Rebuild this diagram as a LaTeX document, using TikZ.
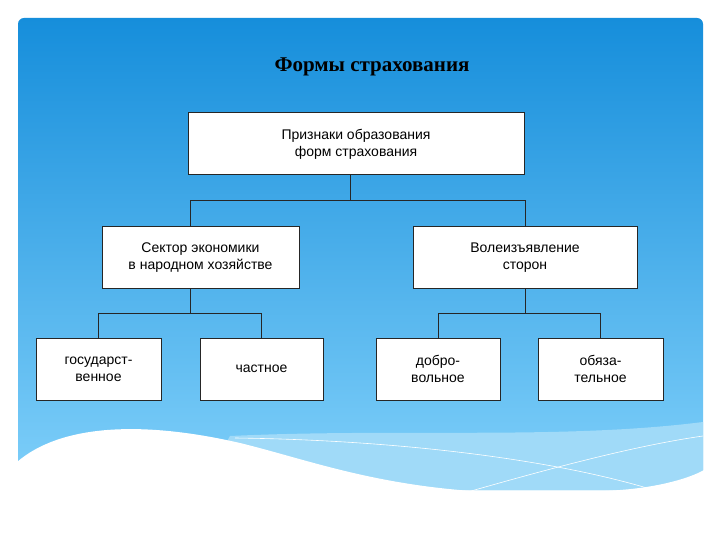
\documentclass[tikz,border=0pt]{standalone}
\usepackage{fontspec}
\setmainfont{Liberation Serif}
\newfontfamily\boxfont{Liberation Sans}
\definecolor{topblue}{RGB}{22,142,219}
\definecolor{botblue}{RGB}{128,208,250}
\definecolor{waveblue}{RGB}{160,218,248}
\begin{document}
\begin{tikzpicture}[x=1pt,y=-1pt,
  bx/.style={draw=black!85,line width=1pt,fill=white,minimum height=62pt,align=center,font=\boxfont\fontsize{14}{17}\selectfont,inner sep=2pt},
  ln/.style={draw=black!85,line width=0.9pt}]
\useasboundingbox (0,0) rectangle (720,540);
\fill[white] (0,0) rectangle (720,540);
\shade[top color=topblue, bottom color=botblue, rounded corners=6pt] (18,18) rectangle (703,490);
% waves
\fill[waveblue] (230,436) .. controls (400,428) and (560,440) .. (703,422) -- (703,490) -- (200,490) -- cycle;
\draw[white,line width=0.6pt] (235,438) .. controls (400,440) and (560,460) .. (660,492);
\draw[white,line width=0.6pt] (440,500) .. controls (560,465) and (640,445) .. (703,436);
\fill[white] (17,462) .. controls (60,425) and (140,420) .. (240,443) .. controls (330,465) and (420,505) .. (620,490) .. controls (660,487) and (690,478) .. (704,470) -- (704,541) -- (17,541) -- cycle;
\node[font=\bfseries\fontsize{21}{24}\selectfont] (title) at (372,67) {Формы страхования};
\node[bx,minimum width=336pt] (top) at (356,144) {Признаки образования\\форм страхования};
\node[bx,minimum width=197pt] (ml) at (200.5,257.5) {Сектор экономики\\в народном хозяйстве};
\node[bx,minimum width=224pt] (mr) at (525,257.5) {Волеизъявление\\сторон};
\node[bx,minimum width=125pt] (b1) at (98.5,369) {государст-\\венное};
\node[bx,minimum width=123pt] (b2) at (261.5,369) {частное};
\node[bx,minimum width=124pt] (b3) at (438,369) {добро-\\вольное};
\node[bx,minimum width=125pt] (b4) at (600.5,369) {обяза-\\тельное};
\coordinate (j1) at (350,200);
\coordinate (j2) at (190,313);
\coordinate (j3) at (525,313);
\draw[ln] (top.south -| j1) -- (j1);
\draw[ln] (j1) -| (ml.north -| j2);
\draw[ln] (j1) -| (mr.north);
\draw[ln] (ml.south -| j2) -- (j2);
\draw[ln] (j2) -| (b1.north);
\draw[ln] (j2) -| (b2.north);
\draw[ln] (mr.south) -- (j3);
\draw[ln] (j3) -| (b3.north);
\draw[ln] (j3) -| (b4.north);
\end{tikzpicture}
\end{document}
